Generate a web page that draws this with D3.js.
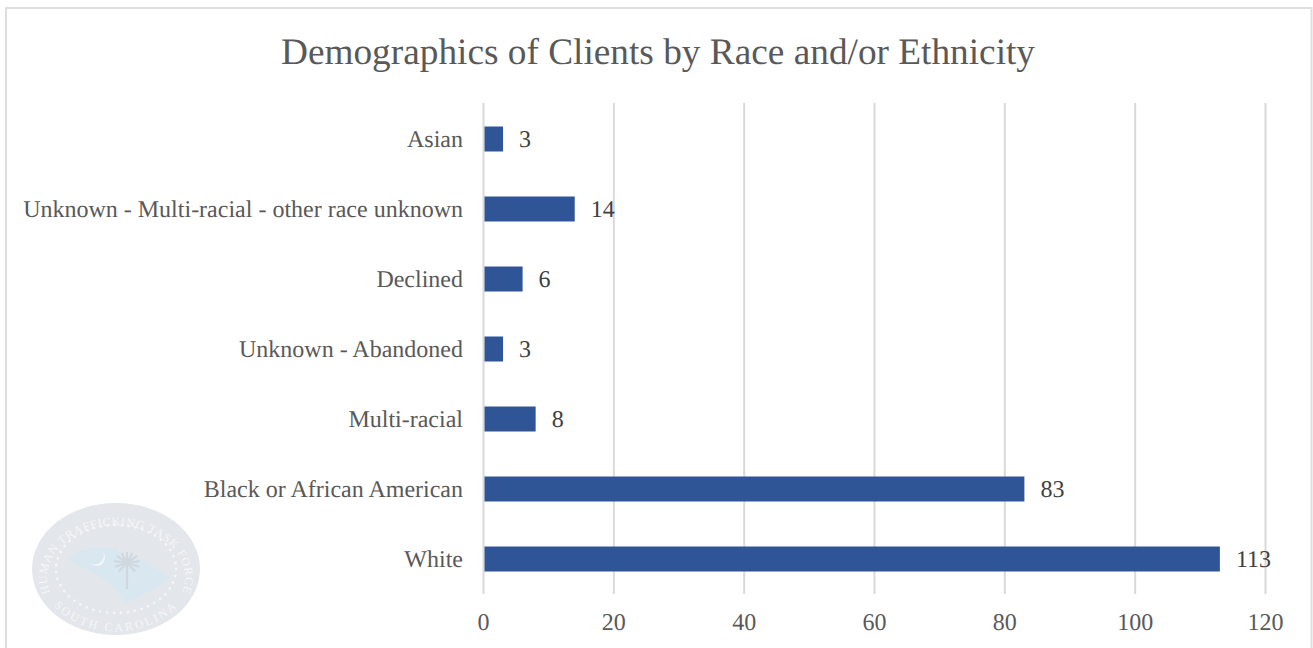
<!DOCTYPE html>
<html>
<head>
<meta charset="utf-8">
<style>
html, body { margin: 0; padding: 0; background: #fff; overflow: hidden; }
svg { display: block; }
text { font-family: "Liberation Serif", serif; text-rendering: geometricPrecision; }
.title { font-size: 37.3px; fill: #595959; }
.cat { font-size: 24px; fill: #595959; }
.tick-label { font-size: 24px; fill: #595959; }
.value { font-size: 24px; fill: #404040; }
.grid line { stroke: #d9d9d9; stroke-width: 2px; }
</style>
</head>
<body>
<svg width="1313" height="648"></svg>
<script src="https://d3js.org/d3.v7.min.js"></script>
<script>
var categories = ["Asian", "Unknown - Multi-racial - other race unknown", "Declined", "Unknown - Abandoned", "Multi-racial", "Black or African American", "White"];
var clients = [3, 14, 6, 3, 8, 83, 113];
var xTicks = [0, 20, 40, 60, 80, 100, 120];
var chartTitle = "Demographics of Clients by Race and/or Ethnicity";

var svg = d3.select("svg");

// outer chart frame, runs off the bottom of the picture
svg.append("path")
    .attr("d", "M6,648V8H1311.5V648")
    .attr("fill", "none")
    .attr("stroke", "#dedede")
    .attr("stroke-width", 2);

var x = d3.scaleLinear().domain([0, 120]).range([483.5, 1265.5]);
var y = d3.scaleBand().domain(categories).range([104, 594]).paddingInner(0.643).paddingOuter(0.3215);

svg.append("text")
    .attr("class", "title")
    .attr("x", 658)
    .attr("y", 64)
    .attr("text-anchor", "middle")
    .text(chartTitle);

// watermark seal behind the plot
var seal = svg.append("g").attr("transform", "translate(116,569)");
seal.append("ellipse").attr("rx", 84).attr("ry", 66).attr("fill", "#e3e6eb");
seal.append("path")
    .attr("d", "M-48,-9 C-42,-16 -34,-21 -24,-21 L1,-21 L5,-12 L27,-9 L54,9 L44,16 L34,22 L22,28 L9,34 L3,24 L-9,12 L-30,0 Z")
    .attr("fill", "#d9e7f1");
seal.append("ellipse").attr("rx", 60).attr("ry", 44).attr("fill", "none")
    .attr("stroke", "#f5f6f8").attr("stroke-width", 2.6).attr("stroke-linecap", "round")
    .attr("stroke-dasharray", "0 7");
// crescent
seal.append("path")
    .attr("d", "M-13,-17 A9,9 0 0 1 -26,-6 A7.5,7.5 0 0 0 -13,-17 Z")
    .attr("fill", "#f3f6f9");
// palmetto
var palm = seal.append("g").attr("stroke", "#d0d8df").attr("fill", "none").attr("stroke-width", 2.2);
palm.append("path").attr("d", "M11,-6 L11,20");
palm.selectAll(".frond")
  .data([-170, -140, -115, -90, -65, -40, -10, 20, 50, 130, 160])
  .enter().append("line")
    .attr("x1", 11)
    .attr("y1", -6)
    .attr("x2", function(d) { return 11 + 13 * Math.cos(d * Math.PI / 180); })
    .attr("y2", function(d) { return -6 + 11 * Math.sin(d * Math.PI / 180); });

seal.append("path").attr("id", "sealTop").attr("d", "M-64,28 A69,52 0 1 1 64,28").attr("fill", "none");
seal.append("path").attr("id", "sealBottom").attr("d", "M-66,32 A76,60 0 0 0 66,32").attr("fill", "none");
seal.append("text").attr("font-size", 12).attr("fill", "#f5f6f8").attr("letter-spacing", 0.7)
    .append("textPath").attr("href", "#sealTop").attr("startOffset", "50%").attr("text-anchor", "middle")
    .text("HUMAN TRAFFICKING TASK FORCE");
seal.append("text").attr("font-size", 12).attr("fill", "#f5f6f8").attr("letter-spacing", 2.4)
    .append("textPath").attr("href", "#sealBottom").attr("startOffset", "50%").attr("text-anchor", "middle")
    .text("SOUTH CAROLINA");

svg.append("g")
    .attr("class", "grid")
  .selectAll("line")
  .data(xTicks)
  .enter().append("line")
    .attr("x1", function(d) { return x(d); })
    .attr("x2", function(d) { return x(d); })
    .attr("y1", 103)
    .attr("y2", 594);

svg.append("g")
  .selectAll("rect")
  .data(clients)
  .enter().append("rect")
    .attr("x", x(0) + 1)
    .attr("y", function(d, i) { return y(categories[i]); })
    .attr("width", function(d) { return x(d) - x(0) - 1; })
    .attr("height", y.bandwidth())
    .attr("fill", "#2f5597");

svg.append("g")
  .selectAll("text")
  .data(clients)
  .enter().append("text")
    .attr("class", "value")
    .attr("x", function(d) { return x(d) + 16; })
    .attr("y", function(d, i) { return y(categories[i]) + y.bandwidth() / 2; })
    .attr("dy", ".35em")
    .text(function(d) { return d; });

svg.append("g")
  .selectAll("text")
  .data(categories)
  .enter().append("text")
    .attr("class", "cat")
    .attr("x", 463)
    .attr("y", function(d) { return y(d) + y.bandwidth() / 2; })
    .attr("dy", ".35em")
    .attr("text-anchor", "end")
    .text(function(d) { return d; });

svg.append("g")
  .selectAll("text")
  .data(xTicks)
  .enter().append("text")
    .attr("class", "tick-label")
    .attr("x", function(d) { return x(d); })
    .attr("y", 630)
    .attr("text-anchor", "middle")
    .text(function(d) { return d; });
</script>
</body>
</html>
